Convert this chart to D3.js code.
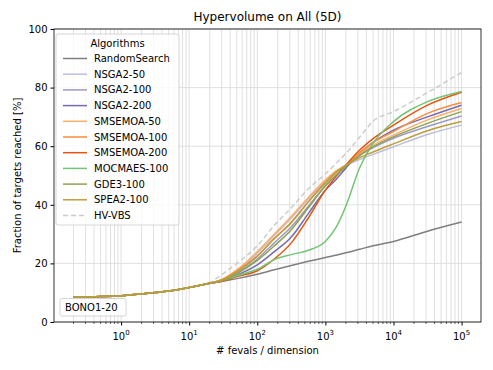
<!DOCTYPE html>
<html>
<head>
<meta charset="utf-8">
<script src="https://cdn.jsdelivr.net/npm/d3@7"></script>
<style>
  body { margin: 0; background: #fff; }
  text { font-family: "DejaVu Sans", sans-serif; fill: #000; }
</style>
</head>
<body>
<script>
// fevals / dimension sample points
var xVals = [0.2, 0.5, 1, 2, 5, 10, 20, 31.6, 50.1, 100, 178, 316, 562, 1000, 1413, 1995, 3162, 5012, 10000, 31623, 100000];

var randomSearch = [8.5,8.7,9.0,9.6,10.6,11.8,13.2,14.0,14.8,16.3,17.8,19.3,20.7,22.0,22.8,23.6,24.8,26.0,27.5,31.0,34.1];
var nsga2_50  = [8.5,8.7,9.0,9.6,10.6,11.8,13.2,14.6,17.5,23.5,29.5,35.5,42.0,48.0,51.0,53.5,55.4,57.2,59.8,64.0,67.2];
var nsga2_100 = [8.5,8.7,9.0,9.6,10.6,11.8,13.2,14.4,16.8,21.5,27.0,32.5,39.5,46.5,50.0,53.0,56.7,59.5,62.7,66.7,70.3];
var nsga2_200 = [8.5,8.7,9.0,9.6,10.6,11.8,13.2,14.1,16.0,19.5,24.0,29.0,37.0,45.0,48.5,52.5,57.5,61.3,65.5,70.0,74.0];
var smsemoa_50  = [8.5,8.7,9.0,9.6,10.6,11.8,13.2,14.8,17.8,24.0,30.0,36.0,42.5,48.5,51.5,53.5,57.4,60.4,63.8,69.0,72.9];
var smsemoa_100 = [8.5,8.7,9.0,9.6,10.6,11.8,13.2,14.6,17.4,22.5,28.5,34.0,41.0,47.5,51.0,53.5,57.8,61.2,65.0,71.2,74.9];
var smsemoa_200 = [8.5,8.7,9.0,9.6,10.6,11.8,13.2,14.0,15.5,17.5,21.5,27.0,35.5,45.0,49.5,53.5,58.6,62.6,67.2,74.0,78.4];
var mocmaes_100 = [8.5,8.7,9.0,9.6,10.6,11.8,13.2,14.2,15.8,18.0,21.3,23.0,24.5,27.5,32.0,39.5,52.5,61.0,68.4,75.2,78.7];
var gde3_100  = [8.5,8.7,9.0,9.6,10.6,11.8,13.2,14.3,16.5,21.0,26.0,31.5,39.0,46.5,50.0,53.0,56.9,59.8,63.2,67.8,71.8];
var spea2_100 = [8.5,8.7,9.0,9.6,10.6,11.8,13.2,14.5,17.2,22.5,28.5,34.0,41.0,47.5,51.0,53.5,56.0,58.0,60.8,65.3,68.4];
var hvVbs     = [8.5,8.7,9.0,9.6,10.6,11.8,13.5,16.5,20.0,26.0,33.0,39.0,45.5,50.5,54.0,57.5,63.0,68.5,71.8,78.3,85.2];

var names  = ['RandomSearch','NSGA2-50','NSGA2-100','NSGA2-200','SMSEMOA-50','SMSEMOA-100','SMSEMOA-200','MOCMAES-100','GDE3-100','SPEA2-100','HV-VBS'];
var values = [randomSearch, nsga2_50, nsga2_100, nsga2_200, smsemoa_50, smsemoa_100, smsemoa_200, mocmaes_100, gde3_100, spea2_100, hvVbs];
var colors = ['#7f7f7f','#bcbddc','#9e9ac8','#756bb1','#fdae6b','#fd8d3c','#e6550d','#74c476','#8ca252','#bd9e39','#cccccc'];

var yTicks = [0,20,40,60,80,100];
var xTicks = [1,10,100,1000,10000,100000];

var width = 493, height = 370;
var margin = {left:54, right:12, top:29, bottom:48};
var w = width - margin.left - margin.right;
var h = height - margin.top - margin.bottom;

var x = d3.scaleLog()
    .domain([Math.pow(10,-0.985), Math.pow(10,5.285)])
    .range([0,w]);
var y = d3.scaleLinear().domain([0,100]).range([h,0]);

var svg = d3.select("body").append("svg")
    .attr("width",width).attr("height",height);

svg.append("text")
    .attr("x", margin.left + w/2).attr("y", 21)
    .attr("text-anchor","middle").style("font-size","12px")
    .text("Hypervolume on All (5D)");

var g = svg.append("g").attr("transform","translate("+margin.left+","+margin.top+")");

// minor + major vertical grid
var gridX = [];
for (var e = -1; e <= 5; e++) {
  for (var m = 1; m <= 9; m++) {
    var v = m*Math.pow(10,e);
    if (v >= x.domain()[0] && v <= x.domain()[1]) gridX.push(v);
  }
}
g.selectAll(".vgrid").data(gridX).enter().append("line")
    .attr("x1",function(d){ return x(d); }).attr("x2",function(d){ return x(d); })
    .attr("y1",0).attr("y2",h)
    .attr("stroke","#dcdcdc").attr("stroke-width",0.9);
g.selectAll(".hgrid").data(yTicks).enter().append("line")
    .attr("x1",0).attr("x2",w)
    .attr("y1",function(d){ return y(d); }).attr("y2",function(d){ return y(d); })
    .attr("stroke","#dcdcdc").attr("stroke-width",0.9);

var line = d3.line()
    .x(function(d,i){ return x(xVals[i]); })
    .y(function(d){ return y(d); })
    .curve(d3.curveMonotoneX);

// draw the dashed best-of reference underneath, then the algorithms
var order = [10,0,1,2,3,4,5,6,7,8,9];
order.forEach(function(i){
  g.append("path")
    .attr("d", line(values[i]))
    .attr("fill","none")
    .attr("stroke", colors[i])
    .attr("stroke-width",1.5)
    .attr("stroke-dasharray", names[i]==='HV-VBS' ? "5,3" : null);
});

// axes
var yAxis = d3.axisLeft(y).tickValues(yTicks).tickSize(3.5).tickPadding(3);
var yg = g.append("g").call(yAxis);
yg.select(".domain").remove();
yg.selectAll("text").style("font-size","10px").attr("fill","#000");

var xAxis = d3.axisBottom(x).tickValues(xTicks).tickSize(3.5).tickPadding(3).tickFormat("");
var xg = g.append("g").attr("transform","translate(0,"+h+")").call(xAxis);
xg.select(".domain").remove();
var minor = gridX.filter(function(d){ return xTicks.indexOf(d) < 0; });
xg.selectAll(".minor").data(minor).enter().append("line")
    .attr("x1",function(d){ return x(d); }).attr("x2",function(d){ return x(d); })
    .attr("y1",0).attr("y2",2).attr("stroke","#000").attr("stroke-width",0.6);

xTicks.forEach(function(t){
  var lbl = g.append("text")
    .attr("x", x(t)).attr("y", h + 18)
    .attr("text-anchor","middle").style("font-size","10px");
  lbl.append("tspan").text("10");
  lbl.append("tspan").attr("dy",-5).style("font-size","7px").text(String(Math.round(Math.log10(t))));
});

g.append("rect").attr("width",w).attr("height",h)
    .attr("fill","none").attr("stroke","#000").attr("stroke-width",0.8);

svg.append("text")
    .attr("x", margin.left + w/2).attr("y", 354)
    .attr("text-anchor","middle").style("font-size","10px")
    .text("# fevals / dimension");
svg.append("text")
    .attr("transform","translate(21,"+(margin.top + h/2)+") rotate(-90)")
    .attr("text-anchor","middle").style("font-size","10px")
    .text("Fraction of targets reached [%]");

// legend
var lg = g.append("g").attr("transform","translate(2,5)");
lg.append("rect").attr("width",123).attr("height",191).attr("rx",2)
    .attr("fill","#fff").attr("fill-opacity",0.8)
    .attr("stroke","#cccccc").attr("stroke-width",0.8);
lg.append("text").attr("x",61.5).attr("y",13).attr("text-anchor","middle")
    .style("font-size","10px").text("Algorithms");
names.forEach(function(n,i){
  var yy = 24.5 + i*15.7;
  lg.append("line").attr("x1",7).attr("x2",31).attr("y1",yy).attr("y2",yy)
    .attr("stroke",colors[i]).attr("stroke-width",1.5)
    .attr("stroke-dasharray", n==='HV-VBS' ? "5,3" : null);
  lg.append("text").attr("x",38).attr("y",yy+3.5).style("font-size","10px").text(n);
});

// problem label box
var pb = g.append("g").attr("transform","translate(6,"+(h-23.5)+")");
pb.append("rect").attr("width",66).attr("height",17.5).attr("rx",2)
    .attr("fill","#fff").attr("fill-opacity",0.8)
    .attr("stroke","#cccccc").attr("stroke-width",0.8);
pb.append("text").attr("x",5).attr("y",12.5).style("font-size","10px").text("BONO1-20");
</script>
</body>
</html>
